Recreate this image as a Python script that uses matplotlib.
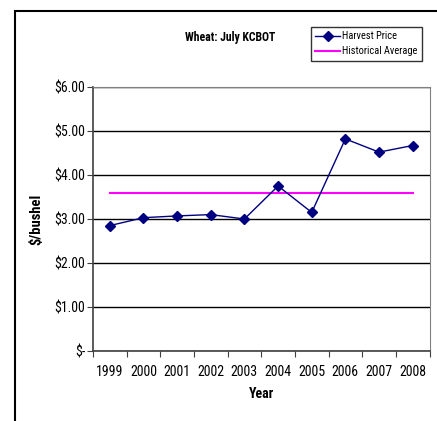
import matplotlib
matplotlib.use('Agg')
import matplotlib.pyplot as plt
from matplotlib.patches import Rectangle
import numpy as np

years = ['1999', '2000', '2001', '2002', '2003', '2004', '2005', '2006', '2007', '2008']
harvest_price = [2.85, 3.03, 3.07, 3.10, 3.00, 3.75, 3.15, 4.82, 4.52, 4.67]
historical_avg = 3.60
y_ticks = [0, 1, 2, 3, 4, 5, 6]
y_labels = ['$-', '$1.00', '$2.00', '$3.00', '$4.00', '$5.00', '$6.00']

# narrow face, like the Arial Narrow in the original sheet
plt.rcParams['font.family'] = ['Roboto Condensed', 'Liberation Sans', 'DejaVu Sans']

fig = plt.figure(figsize=(4.37, 4.21), dpi=100)
fig.patches.append(Rectangle((15 / 437, -0.1), 1.2, 1 - 11 / 421 + 0.1,
                             transform=fig.transFigure, fill=False,
                             edgecolor='black', linewidth=1.5))

ax = fig.add_axes([93 / 437, 1 - 351 / 421, (429.5 - 93) / 437, (351 - 87) / 421])

x = np.arange(len(years))
ax.plot(x, harvest_price, color='#000080', marker='D', markersize=5,
        linewidth=1, label='Harvest Price', zorder=3)
ax.plot([x[0], x[-1]], [historical_avg, historical_avg], color='#FF00FF',
        linewidth=1.5, label='Historical Average', zorder=2)

ax.set_xlim(-0.5, len(years) - 0.5)
ax.set_ylim(0, 6)
ax.set_yticks(y_ticks)
ax.set_yticklabels(y_labels, fontsize=10)
ax.set_xticks(np.arange(-0.5, len(years), 1))
ax.set_xticklabels([])
ax.set_xticks(x, minor=True)
ax.set_xticklabels(years, minor=True, fontsize=10)
ax.tick_params(axis='x', which='minor', length=0, pad=10)
ax.tick_params(axis='x', which='major', length=4, color='#404040')
ax.tick_params(axis='y', length=4, color='#404040', pad=1.5)

ax.grid(axis='y', color='black', linewidth=1)
ax.set_axisbelow(True)
for s in ['top', 'right']:
    ax.spines[s].set_color('#808080')
for s in ['left', 'bottom']:
    ax.spines[s].set_color('#404040')
    ax.spines[s].set_linewidth(1.2)

ax.set_xlabel('Year', fontsize=10, fontweight='bold', labelpad=6)
ax.set_ylabel('$/bushel', fontsize=10.5, fontweight='bold', labelpad=8)

fig.text(230 / 437, 1 - 37 / 421, 'Wheat: July KCBOT', fontsize=8.5,
         fontweight='bold', ha='center', va='center')

leg = fig.legend(loc='upper left', bbox_to_anchor=(311 / 437, 1 - 27 / 421),
                 fontsize=7.5, frameon=True, fancybox=False, borderpad=0.4,
                 handlelength=2.4, handletextpad=0.2, labelspacing=0.5,
                 borderaxespad=0)
leg.get_frame().set_edgecolor('black')
leg.get_frame().set_linewidth(1)

fig.savefig('out.png', dpi=100)
